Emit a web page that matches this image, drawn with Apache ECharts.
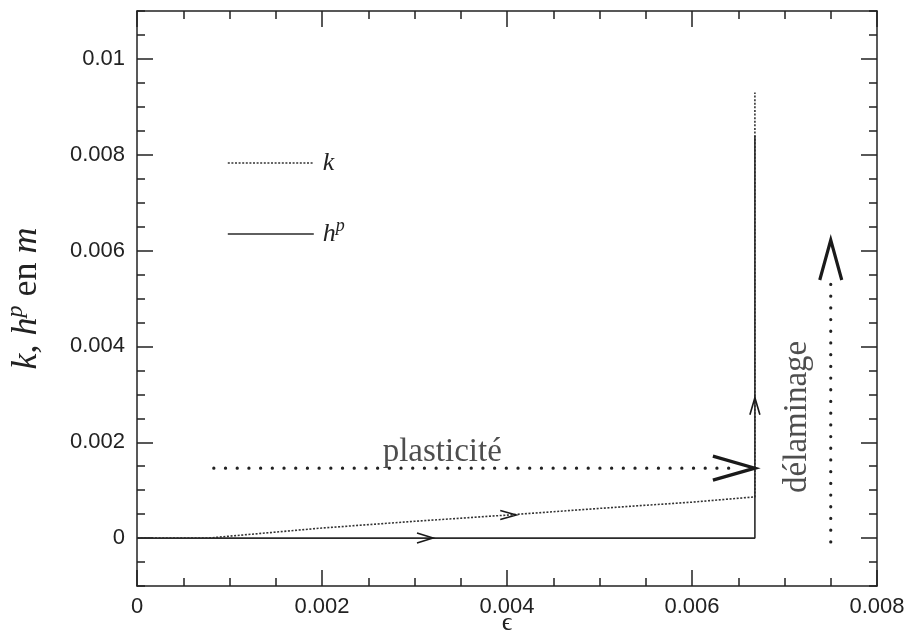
<!DOCTYPE html>
<html>
<head>
<meta charset="utf-8">
<script src="https://cdn.jsdelivr.net/npm/echarts@6/dist/echarts.min.js"></script>
<style>
html,body{margin:0;padding:0;background:#fff;}
#chart{width:909px;height:640px;}
</style>
</head>
<body>
<div id="chart"></div>
<script>
// ---- data ----
var xTicks = [0, 0.002, 0.004, 0.006, 0.008];
var yTicks = [0, 0.002, 0.004, 0.006, 0.008, 0.01];

var kX = [0, 0.00077, 0.001, 0.002, 0.003, 0.004, 0.005, 0.006, 0.00668, 0.00668];
var kY = [0, 0, 0.00004, 0.00021, 0.00035, 0.00048, 0.00062, 0.00075, 0.00086, 0.0093];

var hpX = [0, 0.00668, 0.00668];
var hpY = [0, 0, 0.0084];

var plastX = [0.00083, 0.0065];
var plastY = [0.00146, 0.00146];

var delamX = [0.0075, 0.0075];
var delamY = [-0.00008, 0.0053];

var arrowX = [0.0032, 0.0041, 0.00668, 0.00668, 0.0075];
var arrowY = [0, 0.00048, 0.00293, 0.00146, 0.00622];
var arrowDir = ['right', 'right', 'up', 'right', 'up'];

var annoText = ['plasticité', 'délaminage'];
var annoX = [0.0033, 0.00714];
var annoY = [0.00178, 0.00253];

// ---- styles (not data) ----
var arrowStyle = [
  {len: 16, half: 5, w: 1.6},
  {len: 16, half: 4.5, w: 1.6},
  {len: 17, half: 5, w: 1.6},
  {len: 42, half: 12, w: 3.2},
  {len: 40, half: 11, w: 3.2}
];
var annoRotate = [0, 90];

function zip(a, b) { return a.map(function (v, i) { return [v, b[i]]; }); }

var serif = '"Liberation Serif", "DejaVu Serif", serif';
var sans = '"Liberation Sans", Arial, sans-serif';
var ink = '#222';

var chart = echarts.init(document.getElementById('chart'), null, {renderer: 'canvas'});

function xAx(pos, labels) {
  return {
    type: 'value', position: pos, min: 0, max: 0.008, interval: 0.002,
    axisLine: {show: true, onZero: false, lineStyle: {color: ink, width: 1.5}},
    axisTick: {show: true, inside: true, length: 16, lineStyle: {color: ink, width: 1.5}},
    minorTick: {show: true, splitNumber: 4, length: 8, lineStyle: {color: ink, width: 1.5}},
    splitLine: {show: false},
    axisLabel: {show: labels, margin: 10, color: '#222', fontFamily: sans, fontSize: 22,
      formatter: function (v) { return xTicks.indexOf(+v.toFixed(4)) >= 0 ? String(+v.toFixed(4)) : ''; }},
    name: labels ? '\u03F5' : '', nameLocation: 'middle', nameGap: 24, nameMoveOverlap: false,
    nameTextStyle: {fontFamily: serif, fontSize: 26, color: '#222'}
  };
}
function yMinorAx(pos, labels) {
  return {
    type: 'value', position: pos, min: -0.001, max: 0.011, interval: 0.0005,
    axisLine: {show: true, onZero: false, lineStyle: {color: ink, width: 1.5}},
    axisTick: {show: true, inside: true, length: 8, lineStyle: {color: ink, width: 1.5}},
    splitLine: {show: false},
    axisLabel: {show: labels, interval: 0, margin: 12, color: '#222', fontFamily: sans, fontSize: 22,
      formatter: function (v) { var r = +(+v).toFixed(4); return yTicks.indexOf(r) >= 0 ? String(r) : ''; }},
    name: labels ? '{i|k}{r|, }{i|h}{s|p}{r| en }{i|m}' : '',
    nameLocation: 'middle', nameGap: 87,
    nameTextStyle: {fontFamily: serif, fontSize: 36, color: '#222',
      rich: {
        i: {fontFamily: serif, fontStyle: 'italic', fontSize: 36, color: '#222'},
        r: {fontFamily: serif, fontSize: 36, color: '#222'},
        s: {fontFamily: serif, fontStyle: 'italic', fontSize: 24, color: '#222', padding: [0, 0, 22, 0]}
      }}
  };
}
function yMajorAx(pos) {
  return {
    type: 'value', position: pos, min: -0.001, max: 0.011, interval: 0.0005,
    axisLine: {show: false, onZero: false},
    axisTick: {show: true, inside: true, length: 16, customValues: yTicks, lineStyle: {color: ink, width: 1.5}},
    splitLine: {show: false},
    axisLabel: {show: false}
  };
}

var option = {
  animation: false,
  backgroundColor: '#fff',
  grid: {left: 137, right: 32, top: 11, bottom: 54, containLabel: false, outerBoundsMode: 'none'},
  xAxis: [xAx('bottom', true), xAx('top', false)],
  yAxis: [yMinorAx('left', true), yMajorAx('left'), yMinorAx('right', false), yMajorAx('right')],
  legend: {
    show: true, orient: 'vertical', left: 222, top: 145,
    data: ['k', 'hp'], itemWidth: 86, itemHeight: 14, itemGap: 41,
    formatter: function (n) { return n === 'hp' ? '{i|h}{s|p}' : '{i|k}'; },
    itemStyle: {opacity: 0},
    textStyle: {
      color: '#222', fontFamily: serif, fontSize: 24, padding: [0, 0, 0, 4],
      rich: {
        i: {fontFamily: serif, fontStyle: 'italic', fontSize: 26, color: '#222'},
        s: {fontFamily: serif, fontStyle: 'italic', fontSize: 18, color: '#222', padding: [0, 0, 16, 0]}
      }
    },
    lineStyle: {type: 'inherit', width: 'inherit'}
  },
  series: [
    {
      name: 'hp', type: 'line', data: zip(hpX, hpY), showSymbol: false, symbol: 'none',
      lineStyle: {color: '#2a2a2a', width: 1.6}, itemStyle: {color: '#2a2a2a'}, z: 3
    },
    {
      name: 'k', type: 'line', data: zip(kX, kY), showSymbol: false, symbol: 'none',
      lineStyle: {color: '#333', width: 1.6, type: [2, 1.6]}, itemStyle: {color: '#333'}, z: 2
    },
    {
      name: 'plast', type: 'line', data: zip(plastX, plastY), showSymbol: false, symbol: 'none',
      lineStyle: {color: '#222', width: 3.2, type: [0.1, 11.6], cap: 'round'}
    },
    {
      name: 'delam', type: 'line', data: zip(delamX, delamY), showSymbol: false, symbol: 'none',
      lineStyle: {color: '#222', width: 3.2, type: [0.1, 11.6], cap: 'round'}
    },
    {
      name: 'arrows', type: 'custom', z: 5,
      data: arrowX.map(function (x, i) { return [x, arrowY[i], i]; }),
      renderItem: function (params, api) {
        var i = api.value(2);
        var p = api.coord([api.value(0), api.value(1)]);
        var s = arrowStyle[i];
        var pts = arrowDir[i] === 'right'
          ? [[p[0] - s.len, p[1] - s.half], [p[0], p[1]], [p[0] - s.len, p[1] + s.half]]
          : [[p[0] - s.half, p[1] + s.len], [p[0], p[1]], [p[0] + s.half, p[1] + s.len]];
        return {type: 'polyline', shape: {points: pts},
          style: {stroke: '#1a1a1a', lineWidth: s.w, fill: null, lineJoin: 'miter'}};
      }
    },
    {
      name: 'anno', type: 'scatter', symbolSize: 0,
      data: annoX.map(function (x, i) { return {value: [x, annoY[i]], label: {rotate: annoRotate[i], formatter: annoText[i]}}; }),
      label: {show: true, position: 'inside', fontFamily: serif, fontSize: 33, color: '#222'}
    }
  ]
};
chart.setOption(option);
</script>
</body>
</html>
